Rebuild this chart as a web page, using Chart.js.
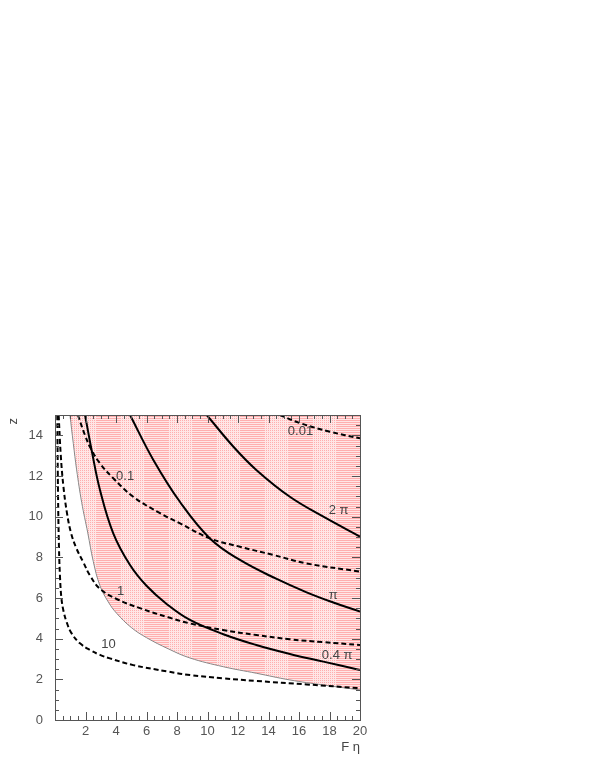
<!DOCTYPE html>
<html>
<head>
<meta charset="utf-8">
<script src="https://cdn.jsdelivr.net/npm/chart.js@4.4.0/dist/chart.umd.min.js"></script>
<style>
  body { margin: 0; background: #fff; }
  canvas { display: block; }
</style>
</head>
<body>
<canvas id="chart" width="599" height="776"></canvas>
<script>
// contour curves, [F eta, z]
const curve10 = [[0.15,15],[0.2,11],[0.26,8.5],[0.33,7.0],[0.42,6.0],[0.56,5.35],[0.77,4.8],[1.09,4.26],[1.64,3.77],[2.3,3.44],[2.95,3.2],[3.6,3.03],[5.13,2.7],[7.43,2.38],[8.85,2.21],[11,2.05],[13.2,1.92],[16.5,1.75],[20,1.56]];
const curve1 = [[0.24,15],[0.38,13],[0.55,11.5],[0.78,10.2],[1.05,9.2],[1.4,8.45],[1.86,7.75],[2.3,7.1],[2.95,6.45],[4.04,5.95],[5.57,5.5],[7.43,5.05],[8.85,4.75],[11,4.43],[13.2,4.18],[15.4,3.97],[17.6,3.83],[20,3.69]];
const curve01 = [[1.5,15],[1.97,14.0],[2.34,13.36],[2.95,12.62],[3.82,11.89],[5.13,10.98],[6.89,10.17],[8.2,9.67],[10.16,8.93],[12.13,8.52],[14.3,8.12],[16.5,7.7],[20,7.3]];
const curve001 = [[14.75,15],[16.07,14.6],[18.03,14.18],[20,13.85]];
const curve04pi = [[1.97,15],[2.4,13.28],[2.95,11.31],[3.82,9.18],[4.92,7.62],[6.0,6.6],[7.3,5.72],[8.85,4.92],[11.04,4.22],[13.2,3.69],[15.4,3.25],[17.6,2.87],[20,2.46]];
const curvePi = [[4.92,15],[6.45,12.79],[8.2,10.72],[10.16,8.93],[12.13,7.87],[14.5,6.95],[16.5,6.28],[18.25,5.78],[20,5.33]];
const curve2pi = [[9.95,15],[11.7,13.44],[13.2,12.3],[15.4,10.98],[17.6,10.0],[20,9.02]];
const boundary = [[0.98,15],[1.2,13.6],[1.42,12.3],[1.75,10.7],[2.15,9.2],[2.51,7.8],[2.95,6.6],[3.5,5.8],[4.04,5.25],[5.0,4.55],[6.0,4.05],[7.43,3.5],[8.85,3.05],[11.04,2.62],[13.2,2.3],[15.4,1.97],[17.6,1.72],[20,1.48]];

const xTicks = [2,4,6,8,10,12,14,16,18,20];
const yTicks = [0,2,4,6,8,10,12,14];

// curve labels: text, F eta, z
const labels = [
  ['10', 3.5, 3.7],
  ['1', 4.3, 6.3],
  ['0.1', 4.6, 12.0],
  ['0.01', 16.1, 14.2],
  ['2 \u03c0', 18.6, 10.3],
  ['\u03c0', 18.25, 6.15],
  ['0.4 \u03c0', 18.5, 3.2]
];

function pts(a) { return a.map(p => ({x: p[0], y: p[1]})); }

// pink hatch like the original fill
function makePattern() {
  const c = document.createElement('canvas');
  c.width = 48; c.height = 2;
  const g = c.getContext('2d');
  g.fillStyle = '#ffe6e6';
  g.fillRect(0, 0, 48, 2);
  g.fillStyle = '#ffaeae';
  for (let x = 0; x < 48; x++) {
    if (x < 24 || x % 2 == 0) g.fillRect(x, 0, 1, 1);
  }
  return g.createPattern(c, 'repeat');
}

function line(data, dashed) {
  return {
    data: pts(data),
    showLine: true,
    borderColor: '#000',
    borderWidth: 2,
    borderDash: dashed ? [5, 3] : [],
    pointRadius: 0,
    tension: 0.4,
    fill: false
  };
}

const frame = {
  id: 'frame',
  afterDatasetsDraw(chart) {
    const ctx = chart.ctx, a = chart.chartArea;
    const xs = chart.scales.x, ys = chart.scales.y;
    ctx.save();
    ctx.strokeStyle = '#555';
    ctx.lineWidth = 1;
    ctx.strokeRect(a.left + 0.5, a.top + 0.5, a.right - a.left, a.bottom - a.top);
    ctx.beginPath();
    for (let v = 0; v <= 20; v += 0.5) {
      const px = Math.round(xs.getPixelForValue(v)) + 0.5;
      const len = v % 2 == 0 ? 8 : 4;
      ctx.moveTo(px, a.bottom); ctx.lineTo(px, a.bottom - len);
      ctx.moveTo(px, a.top); ctx.lineTo(px, a.top + len);
    }
    for (let v = 0; v <= 15; v += 0.5) {
      const py = Math.round(ys.getPixelForValue(v)) + 0.5;
      const len = v % 2 == 0 ? 8 : 4;
      ctx.moveTo(a.left, py); ctx.lineTo(a.left + len, py);
      ctx.moveTo(a.right, py); ctx.lineTo(a.right - len, py);
    }
    ctx.stroke();

    ctx.fillStyle = '#444';
    ctx.font = '13px "Liberation Sans", Arial, sans-serif';
    ctx.textAlign = 'center';
    ctx.textBaseline = 'middle';
    labels.forEach(l => {
      ctx.fillText(l[0], xs.getPixelForValue(l[1]), ys.getPixelForValue(l[2]));
    });

    // axis titles
    ctx.textAlign = 'right';
    ctx.fillText('F \u03b7', a.right, a.bottom + 27);
    ctx.translate(13, a.top + 3);
    ctx.rotate(-Math.PI / 2);
    ctx.textAlign = 'right';
    ctx.fillText('z', 0, 0);
    ctx.restore();
  }
};

const boundaryLine = {
  data: pts(boundary),
  showLine: true,
  borderColor: '#888',
  borderWidth: 1,
  pointRadius: 0,
  tension: 0.4,
  fill: 'end',
  backgroundColor: makePattern()
};

new Chart(document.getElementById('chart'), {
  type: 'scatter',
  data: {
    datasets: [
      line(curve10, true),
      line(curve1, true),
      line(curve01, true),
      line(curve001, true),
      line(curve04pi, false),
      line(curvePi, false),
      line(curve2pi, false),
      boundaryLine
    ]
  },
  options: {
    responsive: false,
    animation: false,
    devicePixelRatio: 1,
    layout: { padding: { left: 15, right: 239, top: 415, bottom: 26 } },
    plugins: { legend: { display: false }, tooltip: { enabled: false } },
    scales: {
      x: {
        type: 'linear', min: 0, max: 20,
        grid: { display: false },
        border: { display: false },
        afterFit(s) { s.height = 30; },
        afterBuildTicks(s) { s.ticks = xTicks.map(v => ({value: v})); },
        ticks: { color: '#555', padding: -4, maxRotation: 0,
          font: { family: '"Liberation Sans", Arial, sans-serif', size: 13 } }
      },
      y: {
        type: 'linear', min: 0, max: 15,
        grid: { display: false },
        border: { display: false },
        afterFit(s) { s.width = 40; },
        afterBuildTicks(s) { s.ticks = yTicks.map(v => ({value: v})); },
        ticks: { color: '#555', padding: 4,
          font: { family: '"Liberation Sans", Arial, sans-serif', size: 13 } }
      }
    }
  },
  plugins: [frame]
});
</script>
</body>
</html>
